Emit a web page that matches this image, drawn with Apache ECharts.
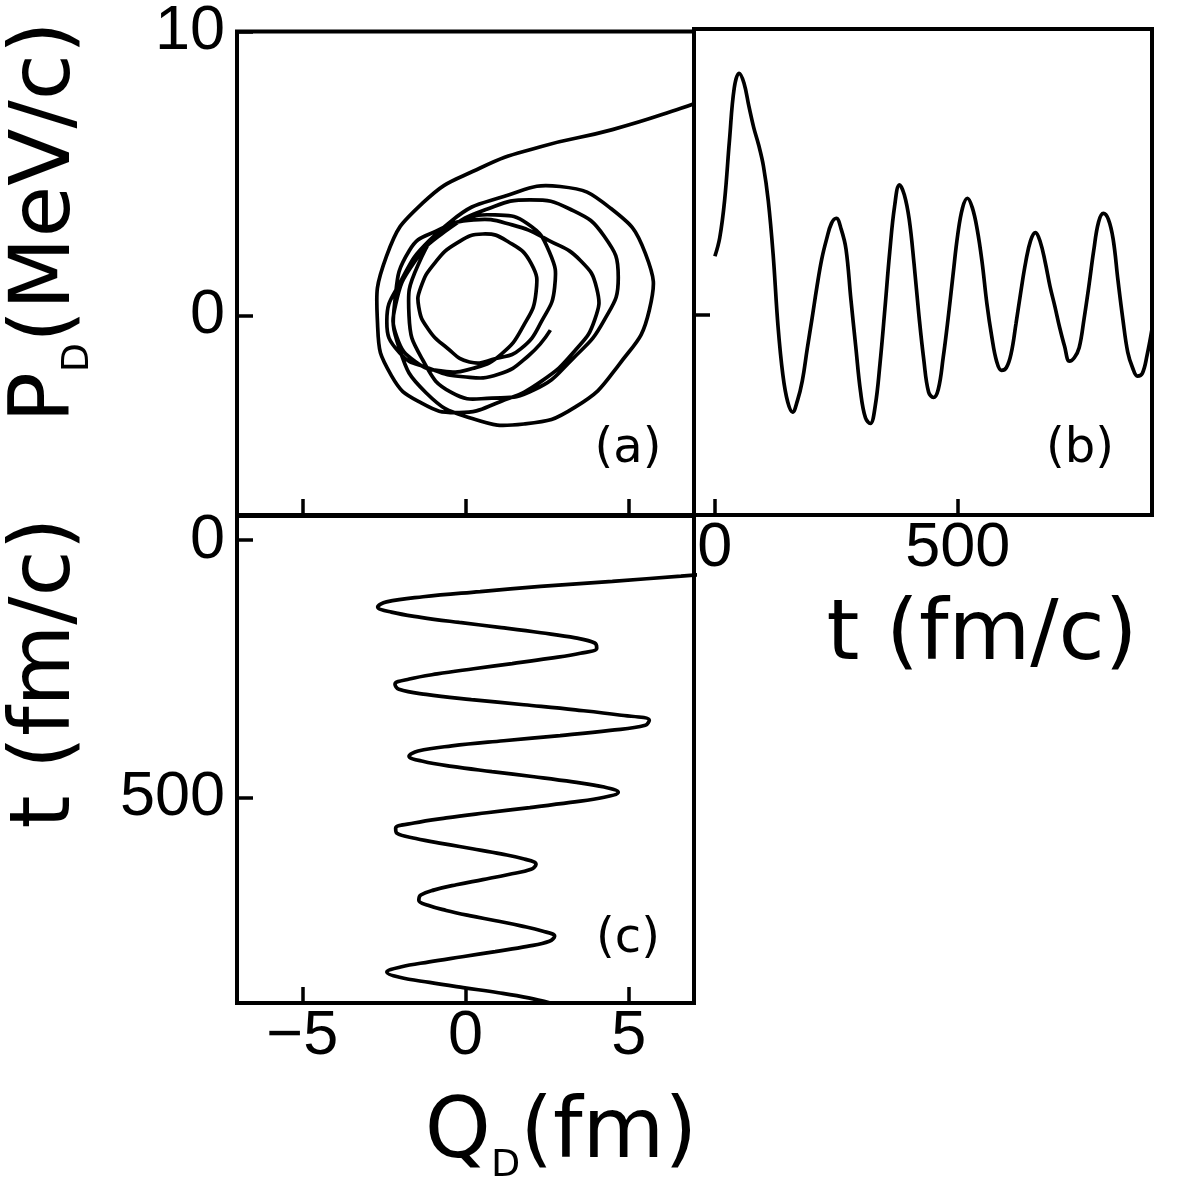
<!DOCTYPE html>
<html>
<head>
<meta charset="utf-8">
<script src="https://cdn.jsdelivr.net/npm/echarts@6/dist/echarts.min.js"></script>
<style>
html,body{margin:0;padding:0;background:#fff;}
#chart{width:1181px;height:1181px;}
</style>
</head>
<body>
<div id="chart"></div>
<script>
// time grid (fm/c)
const T = [0,10,20,30,40,50,60,70,80,90,100,110,120,130,140,150,160,170,180,190,200,210,220,230,240,250,260,270,280,290,300,310,320,330,340,350,360,370,380,390,400,410,420,430,440,450,460,470,480,490,500,510,520,530,540,550,560,570,580,590,600,610,620,630,640,650,660,670,680,690,700,710,720,730,740,750,760,770,780,790,800,810,820,830,840,850,860,870,880,890,900];
// Q_D (fm)
const Q = [18.7,18.0,17.0,15.5,13.4,11.0,8.6,6.6,4.5,2.3,0.45,-1.3,-2.42,-2.69,-2.27,-1.37,-0.19,1.10,2.31,3.37,3.96,4.02,3.52,2.56,1.43,0.25,-0.87,-1.72,-2.16,-2.04,-1.21,0.18,1.79,3.37,4.71,5.63,5.51,4.43,2.90,1.17,-0.42,-1.45,-1.73,-1.31,-0.42,0.81,2.10,3.29,4.25,4.68,4.25,3.21,1.97,0.65,-0.59,-1.58,-2.14,-2.10,-1.52,-0.70,0.21,1.09,1.80,2.16,2.01,1.32,0.53,-0.28,-0.95,-1.37,-1.43,-1.15,-0.59,0.12,0.93,1.70,2.35,2.73,2.57,1.89,0.91,-0.10,-1.11,-1.99,-2.41,-2.02,-1.10,-0.07,1.01,1.93,2.60];
// P_D (MeV/c)
const P = [2.05,2.7,4.0,6.1,7.95,8.45,8.1,7.3,6.55,5.95,5.2,3.98,2.1,-0.4,-2.1,-3.05,-3.4,-3.0,-2.31,-1.2,-0.13,0.97,1.95,2.65,3.2,3.38,3.0,2.3,0.55,-1.1,-2.7,-3.6,-3.8,-3.2,-1.7,0.2,2.2,3.8,4.55,4.2,3.35,1.8,0.0,-1.55,-2.7,-2.89,-2.6,-1.5,-0.15,1.35,2.8,3.75,4.08,3.75,3.0,1.87,0.4,-0.75,-1.62,-1.94,-1.85,-1.35,-0.3,0.82,1.85,2.6,2.88,2.55,1.85,1.0,0.3,-0.45,-1.1,-1.62,-1.5,-1.15,-0.15,1.0,2.25,3.25,3.55,3.35,2.65,1.2,-0.15,-1.3,-1.85,-2.14,-2.05,-1.4,-0.5];

const QTicks = [-5,0,5];
const PTicks = [0,10];
const TTicks = [0,500];
const panelLabels = ['(a)','(b)','(c)'];

const tickFont = {fontFamily:'Liberation Sans', fontSize:63, color:'#000'};
const titleFont = 'DejaVu Sans';
const minusFmt = v => (v < 0 ? '\u2212' + Math.abs(v) : String(v));

function tickCfg(vals){ return {show:true, inside:true, length:16, customValues:vals, lineStyle:{color:'#000', width:3.5}}; }
function labelCfg(vals, margin, show){ return Object.assign({show:show, customValues:vals, margin:margin, formatter:minusFmt}, tickFont); }
const noLine = {show:false, onZero:false};
const noSplit = {show:false};

const chart = echarts.init(document.getElementById('chart'), null, {renderer:'canvas'});

function titleRich(){
  return {
    m:{fontFamily:titleFont, fontSize:84, lineHeight:100, verticalAlign:'middle', fill:'#000', color:'#000'},
    s:{fontFamily:titleFont, fontSize:38, lineHeight:37, verticalAlign:'bottom', fill:'#000', color:'#000'}
  };
}
const lineStyle = {color:'#000', width:3.7};

// phase-space trajectory (Q, P) drawn as one smooth path through the axis scales
function renderPhase(params, api){
  if (params.dataIndex !== 0) return null;
  const pts = T.map((t, i) => api.coord([Q[i], P[i]]));
  const cs = params.coordSys;
  return {
    type:'polyline',
    shape:{points:pts, smooth:0.5},
    style:{stroke:'#000', lineWidth:3.7, fill:'none', lineJoin:'round'},
    clipPath:{type:'rect', shape:{x:cs.x, y:cs.y, width:cs.width, height:cs.height}}
  };
}

chart.setOption({
  animation:false,
  backgroundColor:'#fff',
  grid:[
    {left:237, top:29, width:457, height:486, show:true, borderColor:'#000', borderWidth:4, backgroundColor:'transparent'},
    {left:694, top:29, width:458, height:486, show:true, borderColor:'#000', borderWidth:4, backgroundColor:'transparent'},
    {left:237, top:516, width:457, height:487, show:true, borderColor:'#000', borderWidth:4, backgroundColor:'transparent'}
  ],
  xAxis:[
    {gridIndex:0, type:'value', min:-7, max:7, position:'bottom', axisLine:noLine, splitLine:noSplit, axisTick:tickCfg(QTicks), axisLabel:labelCfg(QTicks,4,false)},
    {gridIndex:1, type:'value', min:-43, max:900, position:'bottom', axisLine:noLine, splitLine:noSplit, axisTick:tickCfg(TTicks), axisLabel:labelCfg(TTicks,2,true)},
    {gridIndex:2, type:'value', min:-7, max:7, position:'bottom', axisLine:noLine, splitLine:noSplit, axisTick:tickCfg(QTicks), axisLabel:labelCfg(QTicks,2,true)}
  ],
  yAxis:[
    {gridIndex:0, type:'value', min:-7, max:10, position:'left', axisLine:noLine, splitLine:noSplit, axisTick:tickCfg(PTicks), axisLabel:labelCfg(PTicks,12,true)},
    {gridIndex:1, type:'value', min:-7, max:10, position:'left', axisLine:noLine, splitLine:noSplit, axisTick:tickCfg(PTicks), axisLabel:labelCfg(PTicks,12,false)},
    {gridIndex:2, type:'value', min:-47, max:900, inverse:true, position:'left', axisLine:noLine, splitLine:noSplit, axisTick:tickCfg(TTicks), axisLabel:labelCfg(TTicks,12,true)}
  ],
  series:[
    {type:'custom', xAxisIndex:0, yAxisIndex:0, data:T.map((t,i)=>[Q[i],P[i]]), renderItem:renderPhase, clip:true, silent:true},
    {type:'line', xAxisIndex:1, yAxisIndex:1, data:T.map((t,i)=>[t,P[i]]), smooth:0.4, showSymbol:false, clip:true, lineStyle:lineStyle},
    {type:'line', xAxisIndex:2, yAxisIndex:2, data:T.map((t,i)=>[Q[i],t]), smooth:0.4, showSymbol:false, clip:true, lineStyle:lineStyle}
  ],
  graphic:[
    {type:'text', x:47, y:222, rotation:Math.PI/2, style:{text:'{m|P}{s|D}{m|(MeV/c)}', rich:titleRich(), align:'center', verticalAlign:'middle'}},
    {type:'text', x:47, y:673, rotation:Math.PI/2, style:{text:'{m|t (fm/c)}', rich:titleRich(), align:'center', verticalAlign:'middle'}},
    {type:'text', x:982, y:637, style:{text:'{m|t (fm/c)}', rich:titleRich(), align:'center', verticalAlign:'middle'}},
    {type:'text', x:561, y:1135, style:{text:'{m|Q}{s|D}{m|(fm)}', rich:titleRich(), align:'center', verticalAlign:'middle'}},
    {type:'text', x:628, y:450, style:{text:panelLabels[0], font:'48px "DejaVu Sans"', fill:'#000', align:'center', verticalAlign:'middle'}},
    {type:'text', x:1080, y:450, style:{text:panelLabels[1], font:'48px "DejaVu Sans"', fill:'#000', align:'center', verticalAlign:'middle'}},
    {type:'text', x:628, y:940, style:{text:panelLabels[2], font:'48px "DejaVu Sans"', fill:'#000', align:'center', verticalAlign:'middle'}}
  ]
});
</script>
</body>
</html>
